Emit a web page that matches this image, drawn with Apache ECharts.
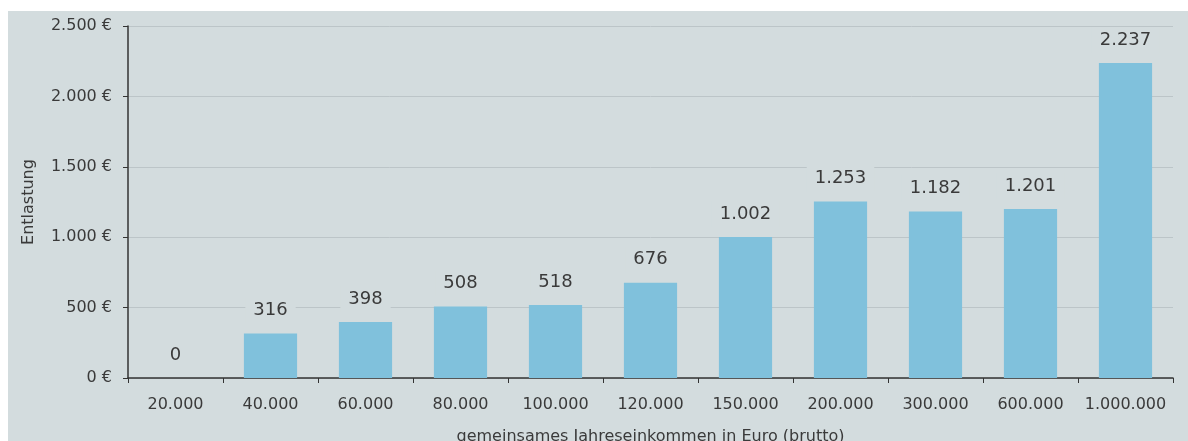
<!DOCTYPE html>
<html><head><meta charset="utf-8">
<script src="https://cdn.jsdelivr.net/npm/echarts@6/dist/echarts.min.js"></script>
<style>
html,body{margin:0;padding:0;background:#fff;}
#bg{position:absolute;left:8px;top:11px;width:1180px;height:430px;background:#d3dcde;}
#c{position:absolute;left:0;top:0;width:1188px;height:441px;}
</style></head>
<body><div id="bg"></div><div id="c"></div>
<script>
const categories = ['20.000','40.000','60.000','80.000','100.000','120.000','150.000','200.000','300.000','600.000','1.000.000'];
const values = [0,316,398,508,518,676,1002,1253,1182,1201,2237];
const yTicks = [0,500,1000,1500,2000,2500];
const fmt = v => String(v).replace(/\B(?=(\d{3})+(?!\d))/g,'.');
const font = '"DejaVu Sans", sans-serif';
const chart = echarts.init(document.getElementById('c'));
chart.setOption({
  backgroundColor: 'transparent',
  animation: false,
  grid: {left:128, right:15, top:26, bottom:63, outerBoundsMode:'none', containLabel:false},
  xAxis: {
    type:'category', data:categories,
    name:'gemeinsames Jahreseinkommen in Euro (brutto)', nameLocation:'middle', nameGap:51,
    nameTextStyle:{color:'#3a3a3a', fontSize:16, fontFamily:font},
    axisLine:{lineStyle:{color:'#333', width:1.5}},
    axisTick:{show:true, length:5, lineStyle:{color:'#333'}},
    axisLabel:{color:'#3a3a3a', fontSize:16, fontFamily:font, margin:19, interval:0, hideOverlap:false}
  },
  yAxis: {
    type:'value', min:yTicks[0], max:yTicks[yTicks.length-1], interval:500,
    name:'Entlastung', nameLocation:'middle', nameGap:91, nameRotate:90,
    nameTextStyle:{color:'#3a3a3a', fontSize:16, fontFamily:font},
    axisLine:{show:true, lineStyle:{color:'#333', width:1.5}},
    axisTick:{show:true, length:5, lineStyle:{color:'#333'}},
    axisLabel:{color:'#3a3a3a', fontSize:16, fontFamily:font, margin:16, formatter: v => fmt(v)+' €'},
    splitLine:{lineStyle:{color:'#bcc5c8', width:1}}
  },
  series: [{
    type:'bar', data:values, barWidth:'56%',
    itemStyle:{color:'#80c1dc'},
    label:{show:true, position:'top', distance:10, color:'#3a3a3a', fontSize:18, fontFamily:font,
      backgroundColor:'#d3dcde', padding:[4,8,4,8],
      formatter: p => fmt(p.value)}
  }]
});
</script></body></html>
